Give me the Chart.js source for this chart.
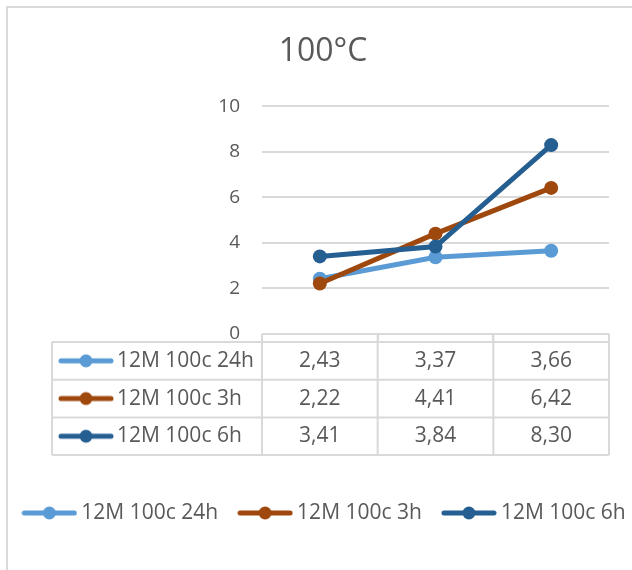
<!DOCTYPE html>
<html>
<head>
<meta charset="utf-8">
<script src="https://cdn.jsdelivr.net/npm/chart.js@4"></script>
<style>
  html, body { margin: 0; padding: 0; background: #fff; }
  #wrap { width: 632px; height: 570px; position: relative; }
</style>
</head>
<body>
<div id="wrap"><canvas id="chart"></canvas></div>
<script>
'use strict';

// ── Data ──────────────────────────────────────────────────
const categories  = ['', '', ''];
const seriesNames = ['12M 100c 24h', '12M 100c 3h', '12M 100c 6h'];
const values24h   = [2.43, 3.37, 3.66];
const values3h    = [2.22, 4.41, 6.42];
const values6h    = [3.41, 3.84, 8.30];
const yTicks      = [0, 2, 4, 6, 8, 10];

// ── Style ─────────────────────────────────────────────────
const COLORS    = ['#5b9bd5', '#9e480e', '#255e91'];
const TEXT      = '#595959';
const LINE_GRAY = '#d9d9d9';
const FONT      = "'Open Sans', sans-serif";
const TXT_SIZE  = 21;

// small line+marker image, used in legend and table keys
function keyImage(color) {
  const c = document.createElement('canvas');
  c.width = 56; c.height = 16;
  const g = c.getContext('2d');
  g.strokeStyle = color;
  g.lineWidth = 5;
  g.lineCap = 'round';
  g.beginPath(); g.moveTo(3, 8); g.lineTo(53, 8); g.stroke();
  g.fillStyle = color;
  g.beginPath(); g.arc(28, 8, 6.5, 0, Math.PI * 2); g.fill();
  return c;
}
const KEYS = COLORS.map(keyImage);

const fmt = v => v.toFixed(2).replace('.', ',');

// ── Frame (outer chart border) ────────────────────────────
const framePlugin = {
  id: 'frame',
  beforeDraw(chart) {
    const ctx = chart.ctx;
    ctx.save();
    ctx.fillStyle = '#fff';
    ctx.fillRect(0, 0, chart.width, chart.height);
    ctx.strokeStyle = LINE_GRAY;
    ctx.lineWidth = 2;
    ctx.beginPath();
    ctx.moveTo(7, chart.height); ctx.lineTo(7, 7); ctx.lineTo(chart.width, 7);
    ctx.stroke();
    ctx.restore();
  }
};

// ── Data table below the axis + legend ────────────────────
const tablePlugin = {
  id: 'dataTable',
  afterDraw(chart) {
    const ctx = chart.ctx;
    const x = chart.scales.x;
    const area = chart.chartArea;
    const colW = (area.right - area.left) / categories.length;
    const top = area.bottom + 8;
    const rowH = 37.7;
    const left = 52;
    const bottom = top + rowH * seriesNames.length;

    ctx.save();
    ctx.strokeStyle = LINE_GRAY;
    ctx.lineWidth = 2;
    ctx.beginPath();
    for (let r = 0; r <= seriesNames.length; r++) {
      const y = top + r * rowH;
      ctx.moveTo(left, y); ctx.lineTo(area.right, y);
    }
    ctx.moveTo(left, top); ctx.lineTo(left, bottom);
    for (let c = 0; c <= categories.length; c++) {
      const xx = area.left + c * colW;
      ctx.moveTo(xx, area.bottom); ctx.lineTo(xx, bottom);
    }
    ctx.stroke();

    ctx.font = `${TXT_SIZE}px ${FONT}`;
    ctx.fillStyle = TEXT;
    ctx.textBaseline = 'middle';
    chart.data.datasets.forEach((ds, r) => {
      const cy = top + r * rowH + rowH / 2;
      ctx.drawImage(KEYS[r], 58, cy - 8);
      ctx.textAlign = 'left';
      ctx.fillText(ds.label, 117, cy);
      ctx.textAlign = 'center';
      ds.data.forEach((v, i) => {
        ctx.fillText(fmt(v), x.getPixelForValue(i), cy);
      });
    });

    // legend row
    const gap = 19, keyW = 60;
    const widths = chart.data.datasets.map(ds => keyW + ctx.measureText(ds.label).width);
    const total = widths.reduce((s, w) => s + w, 0) + gap * (widths.length - 1);
    let lx = 323.5 - total / 2;
    const ly = 513;
    ctx.textAlign = 'left';
    chart.data.datasets.forEach((ds, i) => {
      ctx.drawImage(KEYS[i], lx, ly - 8);
      ctx.fillText(ds.label, lx + keyW, ly);
      lx += widths[i] + gap;
    });
    ctx.restore();
  }
};

const allValues = [values24h, values3h, values6h];

new Chart(document.getElementById('chart'), {
  type: 'line',
  data: {
    labels: categories,
    datasets: seriesNames.map((name, i) => ({
      label: name,
      data: allValues[i],
      borderColor: COLORS[i],
      backgroundColor: COLORS[i],
      borderWidth: 5,
      pointRadius: 7,
      pointHoverRadius: 7,
      pointBorderWidth: 0,
      tension: 0,
      order: 3 - i
    }))
  },
  options: {
    responsive: true,
    maintainAspectRatio: false,
    animation: false,
    layout: { padding: { top: 0, right: 23, bottom: 115, left: 37 } },
    plugins: {
      title: {
        display: true,
        text: '100°C',
        color: TEXT,
        font: { family: FONT, size: 32, weight: 'normal' },
        padding: { top: 33, bottom: 35 }
      },
      legend: { display: false },
      tooltip: { enabled: false }
    },
    scales: {
      x: {
        offset: true,
        ticks: { display: false },
        border: { display: false },
        grid: { offset: true, drawOnChartArea: false, drawTicks: true, tickLength: 8, color: LINE_GRAY, lineWidth: 2 },
        afterFit: s => { s.height = 121; }
      },
      y: {
        min: 0,
        max: 10,
        afterBuildTicks: s => { s.ticks = yTicks.map(v => ({ value: v })); },
        ticks: { color: TEXT, font: { family: FONT, size: 19 }, padding: 22 },
        border: { display: false },
        grid: { color: LINE_GRAY, lineWidth: 2, drawTicks: false },
        afterFit: s => { s.width = 225; }
      }
    }
  },
  plugins: [framePlugin, tablePlugin]
});
</script>
</body>
</html>
